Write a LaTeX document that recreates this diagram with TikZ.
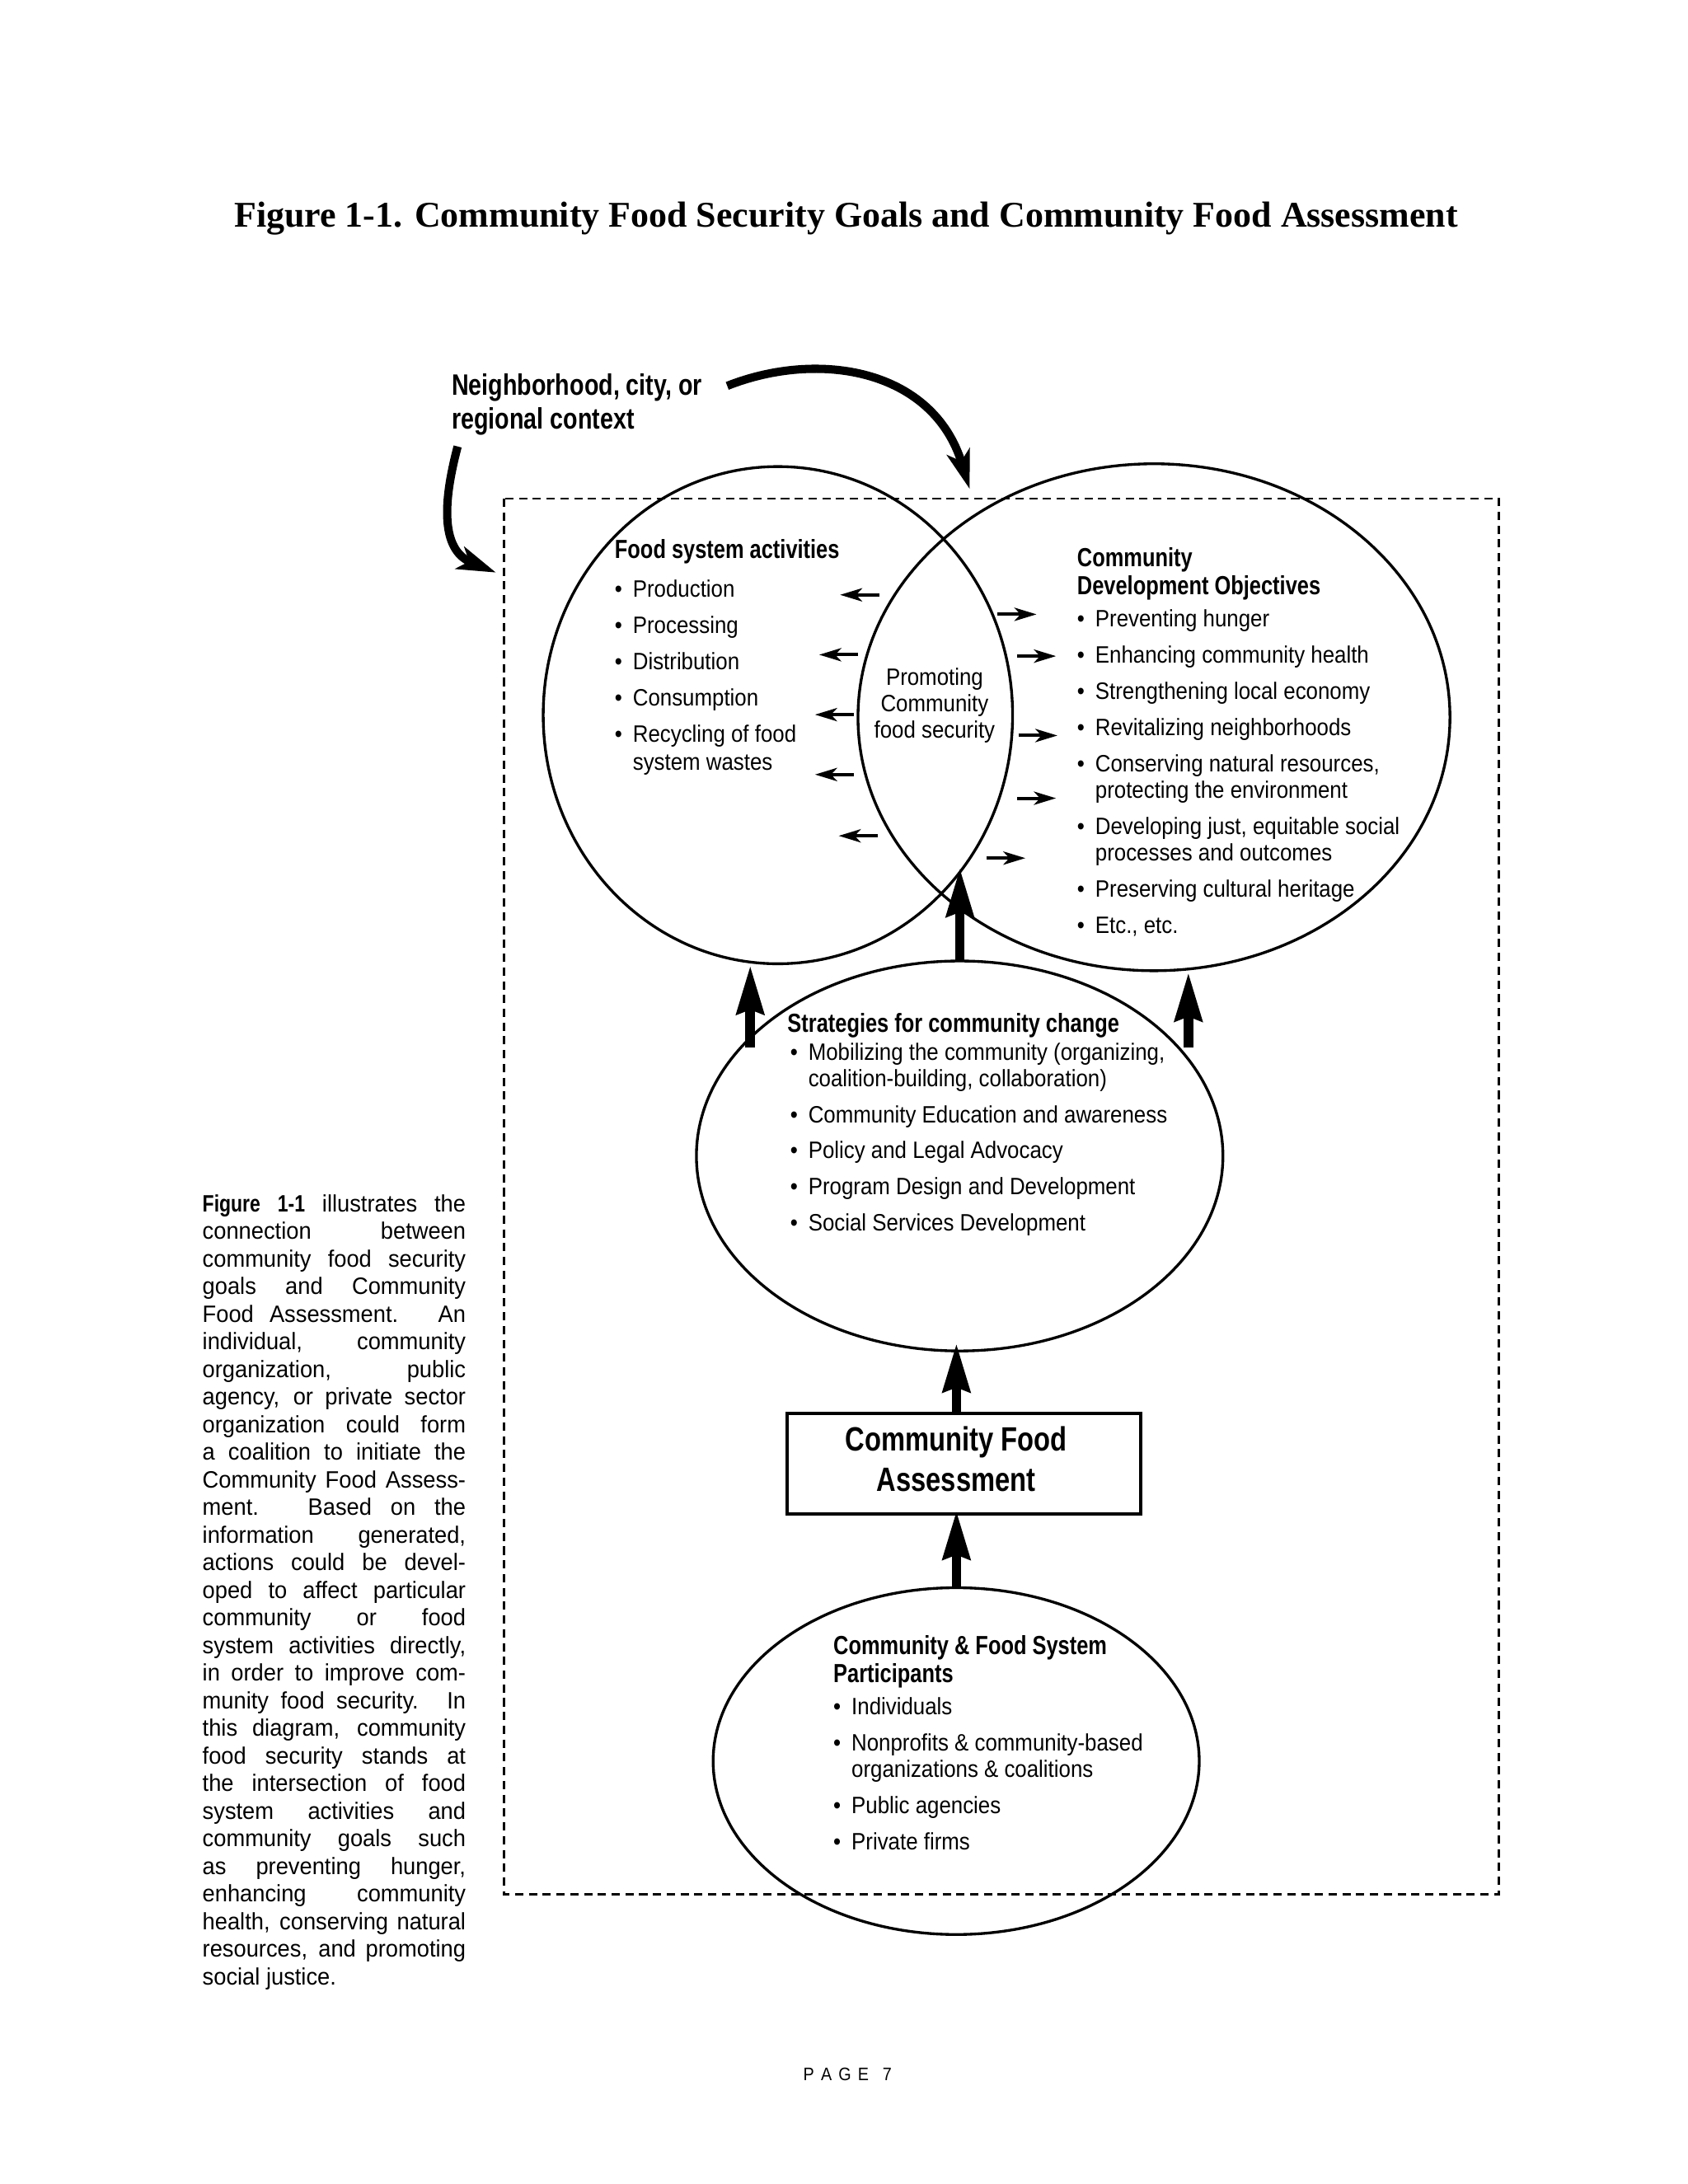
\documentclass[tikz,border=0pt]{standalone}
\usepackage{fontspec}
\setmainfont{Liberation Sans}[FakeStretch=0.9]
\newfontfamily\boldf{Liberation Sans}[FakeStretch=0.8]
\newfontfamily\parf{Liberation Sans}[FakeStretch=0.95]
\newfontfamily\titlef{Liberation Serif}
\usetikzlibrary{arrows.meta,shapes.geometric,calc}
\newcommand\bul{\makebox[6.5pt][l]{\textbullet}}
\newcommand\ind{\hspace*{6.5pt}}
\newcommand\jl[1]{\hbox to 94.5pt{\spaceskip=0.2em plus 1fil\relax #1}}
\newcommand\lastl[1]{\hbox to 94.5pt{#1\hfil}}
\tikzset{
 ell/.style={draw, ellipse, line width=1pt, inner sep=0pt},
 txt/.style={anchor=base west, inner sep=0pt, font=\fontsize{8.5}{9.75}\selectfont},
 hdr/.style={anchor=base west, inner sep=0pt, font=\boldf\bfseries\fontsize{9.4}{10}\selectfont},
 ctr/.style={anchor=base, inner sep=0pt, font=\fontsize{8.5}{9.75}\selectfont},
 bigarrow/.style={line width=3.5pt, -{Stealth[length=17.5pt,width=9.7pt,inset=1.5pt]}},
 smallarrow/.style={line width=1.2pt, -{Stealth[length=8pt,width=4.8pt,inset=2.2pt]}},
 curvearrow/.style={line width=3pt, -{Stealth[length=14pt,width=8.5pt,inset=3.5pt]}},
 dashbox/.style={line width=0.8pt, dash pattern=on 3pt off 2pt},
}
\newcommand\Tx[4]{\node[txt] (#1) at (#2,#3) {#4};}
\newcommand\Hd[4]{\node[hdr] (#1) at (#2,#3) {#4};}
\begin{document}
\begin{tikzpicture}[x=0.5pt,y=-0.5pt]
\fill[white] (0,0) rectangle (1224,1584);
\begin{scope}[scale=1.0101, transform shape]

% title
\node[anchor=base, inner sep=0pt, font=\titlef\bfseries\fontsize{13}{15}\selectfont] (title) at (607.5,163)
 {Figure 1-1. Community Food Security Goals and Community Food Assessment};

% context label
\node[anchor=base west, inner sep=0pt, font=\boldf\bfseries\fontsize{10.6}{12}\selectfont] (n1) at (324,284) {Neighborhood, city, or};
\node[anchor=base west, inner sep=0pt, font=\boldf\bfseries\fontsize{10.6}{12}\selectfont] (n2) at (324,308) {regional context};

% dashed frame
\draw[dashbox] (362,358) rectangle (1076,1360);

% ellipses
\node[ell, minimum width=168.5pt, minimum height=178.5pt] (fsa) at (558.5,513.5) {};
\node[ell, minimum width=212.5pt, minimum height=182pt] (cdo) at (828.5,515) {};
\node[ell, minimum width=189pt, minimum height=140pt] (strat) at (689,830) {};
\node[draw, rectangle, line width=1.1pt, minimum width=127pt, minimum height=36pt, inner sep=0pt] (cfa) at (692,1051) {};
\node[ell, minimum width=174.5pt, minimum height=124.5pt] (part) at (686.5,1264.5) {};

% food system activities
\Hd{f0}{441}{401}{Food system activities}
\Tx{f1}{441}{429}{\bul Production}
\Tx{f2}{441}{455}{\bul Processing}
\Tx{f3}{441}{481}{\bul Distribution}
\Tx{f4}{441}{507}{\bul Consumption}
\Tx{f5}{441}{533}{\bul Recycling of food}
\Tx{f6}{441}{553}{\ind system wastes}

% center
\node[ctr] (m1) at (671,492) {Promoting};
\node[ctr] (m2) at (671,511) {Community};
\node[ctr] (m3) at (671,530) {food security};

% community development objectives
\Hd{c0}{773}{407}{Community}
\Hd{c0b}{773}{427}{Development Objectives}
\Tx{c1}{773}{450}{\bul Preventing hunger}
\Tx{c2}{773}{476}{\bul Enhancing community health}
\Tx{c3}{773}{502}{\bul Strengthening local economy}
\Tx{c4}{773}{528}{\bul Revitalizing neighborhoods}
\Tx{c5}{773}{554}{\bul Conserving natural resources,}
\Tx{c6}{773}{573}{\ind protecting the environment}
\Tx{c7}{773}{599}{\bul Developing just, equitable social}
\Tx{c8}{773}{618}{\ind processes and outcomes}
\Tx{c9}{773}{644}{\bul Preserving cultural heritage}
\Tx{c10}{773}{670}{\bul Etc., etc.}

% strategies
\Hd{s0}{565}{741}{Strategies for community change}
\Tx{s1}{567}{761}{\bul Mobilizing the community (organizing,}
\Tx{s2}{567}{780}{\ind coalition-building, collaboration)}
\Tx{s3}{567}{806}{\bul Community Education and awareness}
\Tx{s4}{567}{832}{\bul Policy and Legal Advocacy}
\Tx{s5}{567}{858}{\bul Program Design and Development}
\Tx{s6}{567}{884}{\bul Social Services Development}

% assessment box text
\node[anchor=base, inner sep=0pt, font=\boldf\bfseries\fontsize{12.1}{14}\selectfont] (b1) at (686.5,1042) {Community Food};
\node[anchor=base, inner sep=0pt, font=\boldf\bfseries\fontsize{12.1}{14}\selectfont] (b2) at (686.5,1071) {Assessment};

% participants
\Hd{p0}{598}{1188}{Community \& Food System}
\Hd{p0b}{598}{1208}{Participants}
\Tx{p1}{598}{1231}{\bul Individuals}
\Tx{p2}{598}{1257}{\bul Nonprofits \& community-based}
\Tx{p3}{598}{1276}{\ind organizations \& coalitions}
\Tx{p4}{598}{1302}{\bul Public agencies}
\Tx{p5}{598}{1328}{\bul Private firms}

% small arrows
\foreach \i/\xa/\xb/\y in {1/631/603/427, 2/616/588/470, 3/613/585/513, 4/613/585/556, 5/630/602/600}{
  \coordinate (lt\i) at (\xa,\y); \coordinate (lh\i) at (\xb,\y);
  \draw[smallarrow] (lt\i) -- (lh\i);
}
\foreach \i/\xa/\xb/\y in {1/716/744/441, 2/730/758/471, 3/731/759/528, 4/730/758/573, 5/708/736/616}{
  \coordinate (rt\i) at (\xa,\y); \coordinate (rh\i) at (\xb,\y);
  \draw[smallarrow] (rt\i) -- (rh\i);
}

% big arrows
\coordinate (bl) at (538.5,752);
\draw[bigarrow] (bl) -- (bl |- fsa.south);
\coordinate (br) at (853,752);
\draw[bigarrow] (br) -- (br |- cdo.south);
\coordinate (mt) at (689,623);
\draw[bigarrow] (strat.north) -- (mt);
\coordinate (st) at ([yshift=3.5pt]strat.south);
\draw[bigarrow] (cfa.north -| part.north) -- (st -| part.north);
\coordinate (cb) at ([yshift=2pt]cfa.south);
\draw[bigarrow] (part.north) -- (cb -| part.north);

% curved arrows
\coordinate (la0) at (328.5,320.5);
\coordinate (la1) at (356,411);
\draw[curvearrow] (la0) .. controls (316,368) and (319,396) .. (la1);
\coordinate (ra0) at (522,277);
\coordinate (ra1) at (696,351);
\draw[curvearrow] (ra0) .. controls (588,251) and (670,265) .. (ra1);

% side paragraph
\node[anchor=base west, inner sep=0pt] (para) at (145,870) {\parf\fontsize{8.5}{9.91}\selectfont\vtop{\baselineskip=9.91pt
\jl{{\boldf\bfseries Figure 1-1} illustrates the}
\jl{connection between}
\jl{community food security}
\jl{goals and Community}
\jl{Food Assessment. An}
\jl{individual, community}
\jl{organization, public}
\jl{agency, or private sector}
\jl{organization could form}
\jl{a coalition to initiate the}
\jl{Community Food Assess-}
\jl{ment. Based on the}
\jl{information generated,}
\jl{actions could be devel-}
\jl{oped to affect particular}
\jl{community or food}
\jl{system activities directly,}
\jl{in order to improve com-}
\jl{munity food security. In}
\jl{this diagram, community}
\jl{food security stands at}
\jl{the intersection of food}
\jl{system activities and}
\jl{community goals such}
\jl{as preventing hunger,}
\jl{enhancing community}
\jl{health, conserving natural}
\jl{resources, and promoting}
\lastl{social justice.}}};

% page number
\node[anchor=base, inner sep=0pt, font=\fontsize{6.5}{8}\selectfont] (pg) at (608.5,1494)
 {P\hspace{2.4pt}A\hspace{2.4pt}G\hspace{2.4pt}E\hspace{5pt}7};
\end{scope}

\pgfresetboundingbox
\useasboundingbox (0,0) rectangle (1224,1584);
\end{tikzpicture}
\end{document}
